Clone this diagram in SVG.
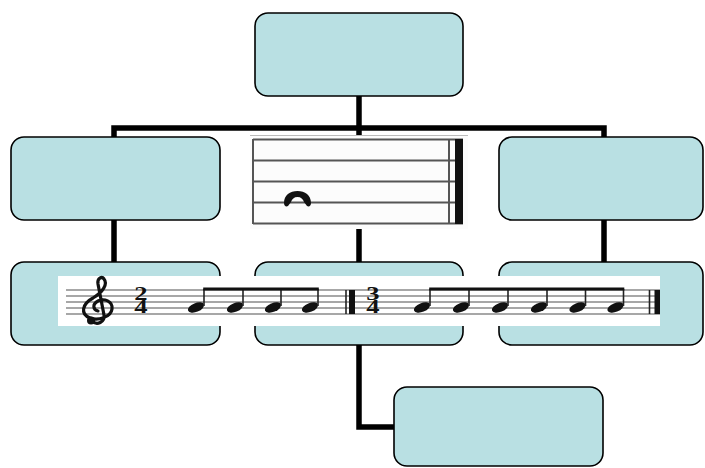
<svg xmlns="http://www.w3.org/2000/svg" width="705" height="468" viewBox="0 0 705 468">
<style>
.box{fill:#b9e0e3;stroke:#000;stroke-width:1.6}
.conn{fill:none;stroke:#000;stroke-width:5.5;stroke-linecap:butt;stroke-linejoin:miter}
.sl{stroke:#8a8a8a;stroke-width:1.4}
.tl{stroke:#555;stroke-width:2}
.nh{fill:#111}
.stem{stroke:#222;stroke-width:1.6}
.ts{font-family:"Liberation Serif",serif;font-weight:bold;font-size:19px;fill:#111;text-anchor:middle}
</style>
<rect width="705" height="468" fill="#fff"/>
<g id="connectors">
<path class="conn" d="M359,96 V128 M114,137 V128 H604 V137 M359,128 V262 M114,220 V262 M604,220 V262 M359,345 V427 H394"/>
</g>
<g id="n-top"><rect class="box" x="255" y="13" width="208" height="83" rx="13"/></g>
<g id="n-r2-left"><rect class="box" x="11" y="137" width="209" height="83" rx="13"/></g>
<g id="n-r2-right"><rect class="box" x="499" y="137" width="204" height="83" rx="13"/></g>
<g id="n-r3-left"><rect class="box" x="11" y="262" width="209" height="83" rx="13"/></g>
<g id="n-r3-mid"><rect class="box" x="255" y="262" width="208" height="83" rx="13"/></g>
<g id="n-r3-right"><rect class="box" x="499" y="262" width="204" height="83" rx="13"/></g>
<g id="n-bottom"><rect class="box" x="394" y="387" width="209" height="79" rx="13"/></g>
<g id="staff-top">
<rect x="250" y="135" width="218" height="94" fill="#fcfcfc"/>
<line x1="250" y1="135.5" x2="468" y2="135.5" stroke="#bbb" stroke-width="1"/>
<g class="tl">
<line x1="253" y1="139.5" x2="463" y2="139.5"/>
<line x1="253" y1="160.5" x2="463" y2="160.5"/>
<line x1="253" y1="181.5" x2="463" y2="181.5"/>
<line x1="253" y1="202.5" x2="463" y2="202.5"/>
<line x1="253" y1="223.5" x2="463" y2="223.5"/>
<line x1="253" y1="139" x2="253" y2="224"/>
<line x1="449" y1="139" x2="449" y2="224"/>
</g>
<rect x="455" y="139" width="8" height="85" fill="#111"/>
<path d="M284,203 C284,195 290,191 297.5,191 C305,191 311,195 311,203 C311,206 309,207 307,206 L304,202 C303,199 301,197 297.5,197 C294,197 292,199 291,202 L288,206 C286,207 284,206 284,203 Z" fill="#111"/>
</g>
<g id="music-strip">
<rect x="58" y="276" width="602" height="50" fill="#fff"/>
<g class="sl">
<line x1="66" y1="290" x2="660" y2="290"/>
<line x1="66" y1="296" x2="660" y2="296"/>
<line x1="66" y1="302" x2="660" y2="302"/>
<line x1="66" y1="308" x2="660" y2="308"/>
<line x1="66" y1="314" x2="660" y2="314"/>
</g>
<path d="M92,321 C97,326 105,322 104,315 L98,284 C97,278 102,276 104,279 C108,284 103,292 93,298 C82,304 80,314 90,318 C98,321 111,317 112,309 C113,301 104,298 98,301 C92,304 93,310 98,311" fill="none" stroke="#111" stroke-width="3.2" stroke-linecap="round"/>
<circle cx="91" cy="320.5" r="4" fill="#111"/>
<text class="ts" transform="translate(141 0) scale(1.4 1)"><tspan x="0" y="300.5">2</tspan><tspan x="0" y="313.5">4</tspan></text>
<text class="ts" transform="translate(373 0) scale(1.4 1)"><tspan x="0" y="300.5">3</tspan><tspan x="0" y="313.5">4</tspan></text>
<g class="nh">
<ellipse cx="196" cy="307.5" rx="8.5" ry="4.4" transform="rotate(-22 196 307.5)"/>
<ellipse cx="235" cy="307.5" rx="8.5" ry="4.4" transform="rotate(-22 235 307.5)"/>
<ellipse cx="273" cy="307.5" rx="8.5" ry="4.4" transform="rotate(-22 273 307.5)"/>
<ellipse cx="310" cy="307.5" rx="8.5" ry="4.4" transform="rotate(-22 310 307.5)"/>
<ellipse cx="422" cy="307.5" rx="8.5" ry="4.4" transform="rotate(-22 422 307.5)"/>
<ellipse cx="461" cy="307.5" rx="8.5" ry="4.4" transform="rotate(-22 461 307.5)"/>
<ellipse cx="500" cy="307.5" rx="8.5" ry="4.4" transform="rotate(-22 500 307.5)"/>
<ellipse cx="539" cy="307.5" rx="8.5" ry="4.4" transform="rotate(-22 539 307.5)"/>
<ellipse cx="577.5" cy="307.5" rx="8.5" ry="4.4" transform="rotate(-22 577.5 307.5)"/>
<ellipse cx="615.5" cy="307.5" rx="8.5" ry="4.4" transform="rotate(-22 615.5 307.5)"/>
</g>
<g class="stem">
<line x1="204" y1="306" x2="204" y2="289"/>
<line x1="243" y1="306" x2="243" y2="289"/>
<line x1="281" y1="306" x2="281" y2="289"/>
<line x1="318" y1="306" x2="318" y2="289"/>
<line x1="430" y1="306" x2="430" y2="289"/>
<line x1="469" y1="306" x2="469" y2="289"/>
<line x1="508" y1="306" x2="508" y2="289"/>
<line x1="547" y1="306" x2="547" y2="289"/>
<line x1="585.5" y1="306" x2="585.5" y2="289"/>
<line x1="623.5" y1="306" x2="623.5" y2="289"/>
</g>
<rect x="203.2" y="287.5" width="115.6" height="3" fill="#111"/>
<rect x="429.2" y="287.5" width="195.1" height="3" fill="#111"/>
<line x1="346" y1="290" x2="346" y2="314" stroke="#222" stroke-width="1.6"/>
<rect x="349" y="290" width="6" height="24" fill="#111"/>
<line x1="649.5" y1="290" x2="649.5" y2="314" stroke="#222" stroke-width="1.6"/>
<rect x="654.5" y="290" width="5.5" height="24" fill="#111"/>
</g>
</svg>
